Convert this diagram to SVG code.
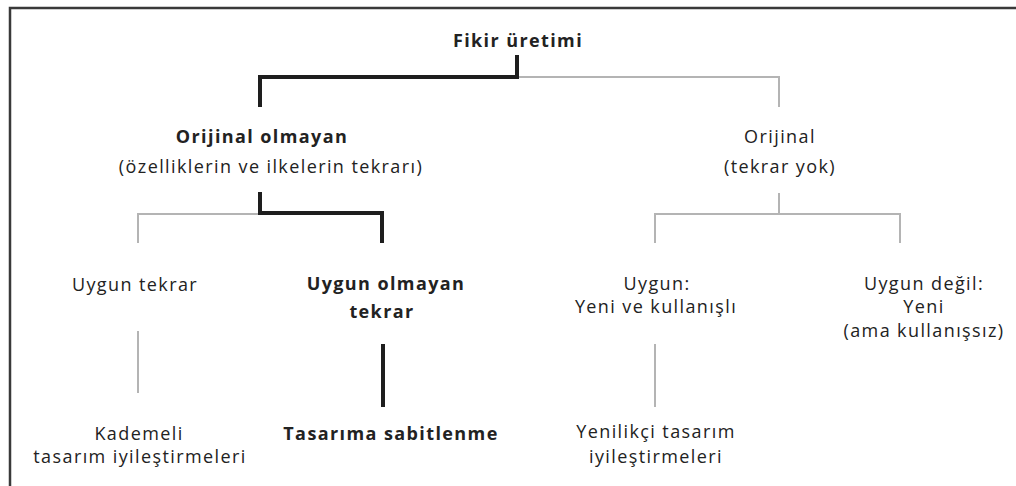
<svg xmlns="http://www.w3.org/2000/svg" width="1016" height="486" viewBox="0 0 1016 486">
<style>
text{font-family:"Open Sans","DejaVu Sans",sans-serif;font-size:18px;letter-spacing:1.4px;fill:#222;text-anchor:middle}
.b{font-weight:bold}
.thick{stroke:#1e1e1e;stroke-width:4;fill:none;stroke-linecap:square}
.thin{stroke:#b4b4b4;stroke-width:2;fill:none}
.frame{stroke:#3a3a3a;stroke-width:2.5;fill:none}
</style>
<rect width="1016" height="486" fill="#fff"/>
<path class="frame" d="M10,490 V8 H1020"/>
<g id="connectors">
<path class="thin" d="M517,77 H779 V107"/>
<path class="thin" d="M138,243 V214 H260"/>
<path class="thin" d="M779,193 V214 M655,243 V214 H900 V243"/>
<path class="thin" d="M138,331 V393"/>
<path class="thin" d="M655,344 V407"/>
<path class="thick" d="M517,57 V77 H260 V105"/>
<path class="thick" d="M260,194 V213 H382 V241"/>
<path class="thick" d="M383,346 V405"/>
</g>
<g id="n-root"><text class="b" x="518" y="47">Fikir üretimi</text></g>
<g id="n-nonoriginal"><text class="b" x="262" y="143">Orijinal olmayan</text><text x="271" y="173">(özelliklerin ve ilkelerin tekrarı)</text></g>
<g id="n-original"><text x="780" y="143">Orijinal</text><text x="780" y="173">(tekrar yok)</text></g>
<g id="n-appropriate-rep"><text x="135" y="291">Uygun tekrar</text></g>
<g id="n-inappropriate-rep"><text class="b" x="386" y="290">Uygun olmayan</text><text class="b" x="382" y="318">tekrar</text></g>
<g id="n-appropriate"><text x="657" y="290">Uygun:</text><text x="656" y="313">Yeni ve kullanışlı</text></g>
<g id="n-inappropriate"><text x="924" y="290">Uygun değil:</text><text x="924" y="313">Yeni</text><text x="924" y="337">(ama kullanışsız)</text></g>
<g id="n-incremental"><text x="139" y="440">Kademeli</text><text x="140" y="463">tasarım iyileştirmeleri</text></g>
<g id="n-fixation"><text class="b" x="391" y="440">Tasarıma sabitlenme</text></g>
<g id="n-innovative"><text x="656" y="438">Yenilikçi tasarım</text><text x="656" y="463">iyileştirmeleri</text></g>
</svg>
